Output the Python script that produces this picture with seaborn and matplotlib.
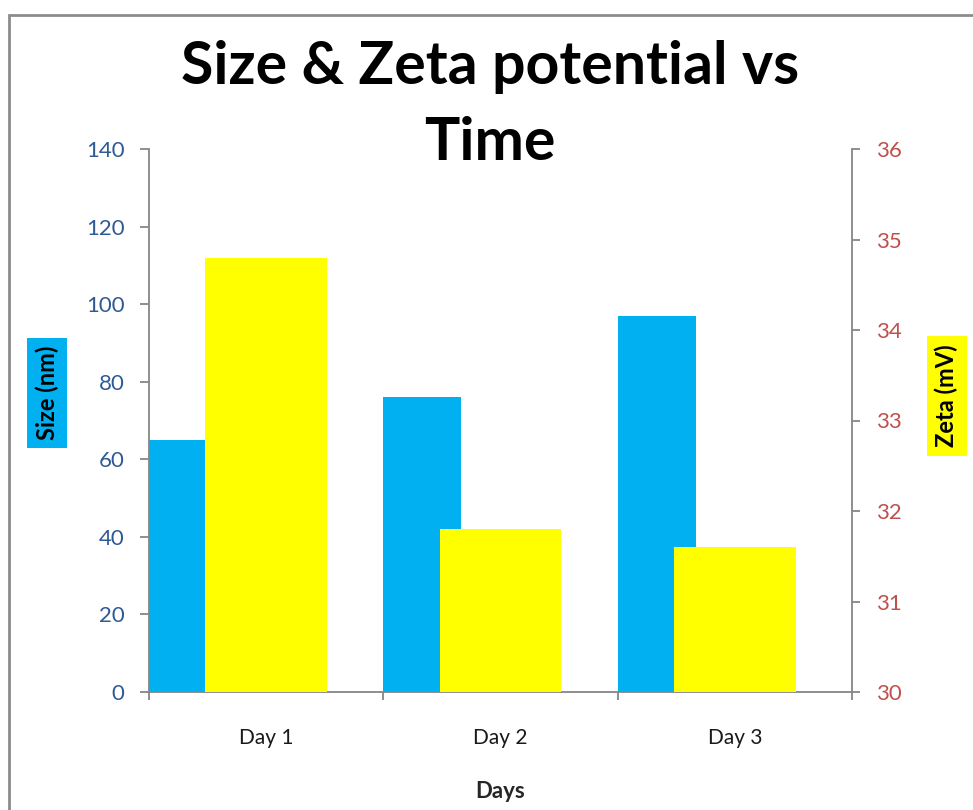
import matplotlib
matplotlib.use("Agg")
import matplotlib.pyplot as plt
from matplotlib.patches import Rectangle
import numpy as np
import pandas as pd
import seaborn as sns

# Measurements per day
days = ["Day 1", "Day 2", "Day 3"]
size_nm = [65, 76, 97]
zeta_mv = [34.8, 31.8, 31.6]
size_ticks = [0, 20, 40, 60, 80, 100, 120, 140]
zeta_ticks = [30, 31, 32, 33, 34, 35, 36]

BLUE = "#00B0F0"
YELLOW = "#FFFF00"
GRID_GRAY = "#868686"
LEFT_TXT = "#2E5A94"
RIGHT_TXT = "#C0504D"

sns.set_theme(style="white")
plt.rcParams["font.family"] = ["Lato", "DejaVu Sans"]

fig = plt.figure(figsize=(9.73, 8.10), dpi=100)
ax = fig.add_axes([149 / 973, 1 - 692 / 810, (852 - 149) / 973, (692 - 149) / 810])
ax2 = ax.twinx()

idx = np.arange(len(days))
df = pd.DataFrame({"day": days, "pos": idx, "size": size_nm, "zeta": zeta_mv})
df["size_x"] = df["pos"] - 1 / 3
df["zeta_x"] = df["pos"] + 0.0

# Size bars on the primary axis, zeta bars on the secondary axis (drawn on top)
sns.barplot(data=df, x="size_x", y="size", native_scale=True, width=1 / 3,
            color=BLUE, saturation=1, linewidth=0, errorbar=None, ax=ax)
sns.barplot(data=df, x="zeta_x", y="zeta", native_scale=True, width=0.52,
            color=YELLOW, saturation=1, linewidth=0, errorbar=None, ax=ax2)

for a in (ax, ax2):
    a.set_xlim(-0.5, len(days) - 0.5)
    a.set_facecolor("none")
    for s in a.spines.values():
        s.set_visible(False)

ax.set_ylim(0, 140)
ax.set_yticks(size_ticks)
ax2.set_ylim(30, 36)
ax2.set_yticks(zeta_ticks)

# Spines
ax.spines["left"].set_visible(True)
ax.spines["bottom"].set_visible(True)
ax2.spines["right"].set_visible(True)
for s in (ax.spines["left"], ax.spines["bottom"], ax2.spines["right"]):
    s.set_color(GRID_GRAY)
    s.set_linewidth(1.3)

# Category boundary ticks (major) and centred labels (minor)
ax.set_xticks(np.arange(-0.5, len(days), 1.0))
ax.set_xticklabels([])
ax.set_xticks(idx, minor=True)
ax.set_xticklabels(days, minor=True)
ax.tick_params(axis="x", which="major", direction="out", length=6, width=1.3,
               color=GRID_GRAY, bottom=True)
ax.tick_params(axis="x", which="minor", length=0, pad=26, labelsize=15,
               labelcolor="#1a1a1a", bottom=True)
ax2.tick_params(axis="x", which="both", bottom=False, labelbottom=False)

ax.tick_params(axis="y", direction="out", length=6.5, width=1.3, color=GRID_GRAY,
               left=True, pad=11, labelsize=16, labelcolor=LEFT_TXT)
ax2.tick_params(axis="y", direction="out", length=6, width=1.3, color=GRID_GRAY,
                right=True, pad=11, labelsize=16, labelcolor=RIGHT_TXT)

ax.set_xlabel("Days", fontsize=16, fontweight="bold", labelpad=24)
ax.set_ylabel("Size (nm)", fontsize=17, fontweight="bold", color="black",
              bbox=dict(facecolor=BLUE, edgecolor="none", pad=6))
ax.yaxis.set_label_coords((59 - 149) / 703, (692 - 393) / 543)
ax2.set_ylabel("Zeta (mV)", fontsize=17, fontweight="bold", color="black",
               rotation=90, bbox=dict(facecolor=YELLOW, edgecolor="none", pad=6))
ax2.yaxis.set_label_coords((935 - 149) / 703, (692 - 396) / 543)

fig.text(490 / 973, 1 - 105 / 810, "Size & Zeta potential vs\nTime",
         ha="center", va="center", fontsize=42.5, fontweight="bold",
         linespacing=1.5, color="black")

# Chart frame
fig.patches.append(Rectangle((9 / 973, -0.1), 1.2, 1 - 15 / 810 + 0.1,
                             transform=fig.transFigure, fill=False,
                             edgecolor="#8c8c8c", linewidth=2))

fig.savefig("out.png", dpi=100)
